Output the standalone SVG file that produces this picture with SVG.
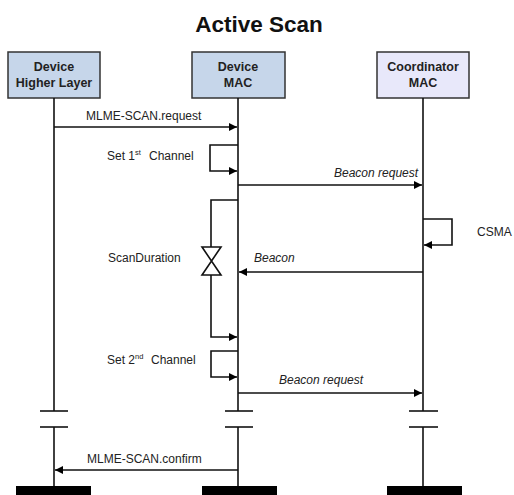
<svg xmlns="http://www.w3.org/2000/svg" width="514" height="495" viewBox="0 0 514 495">
<defs>
<marker id="ah" viewBox="0 0 10 10" refX="10" refY="5" markerWidth="8" markerHeight="8" markerUnits="userSpaceOnUse" orient="auto">
<path d="M0,0 L10,5 L0,10 z" fill="#000"/>
</marker>
<style>
.box{stroke:#333;stroke-width:1.5}
.bt{font-family:"Liberation Sans",Arial,sans-serif;font-weight:bold;font-size:12.5px;fill:#222;text-anchor:middle}
.t{font-family:"Liberation Sans",Arial,sans-serif;font-size:12px;fill:#222}
.it{font-style:italic}
.ll{stroke:#111;stroke-width:1.6;fill:none}
.msg{stroke:#111;stroke-width:1.6;fill:none;marker-end:url(#ah)}
.brk{stroke:#111;stroke-width:1.6}
</style>
</defs>
<rect width="514" height="495" fill="#fff"/>
<text x="259" y="32" font-family="Liberation Sans,Arial,sans-serif" font-weight="bold" font-size="22.5" text-anchor="middle" fill="#111">Active Scan</text>

<g id="node-device-higher-layer">
<rect class="box" x="8" y="52" width="92" height="46" fill="#c6d6ea"/>
<text class="bt" x="54" y="71">Device</text>
<text class="bt" x="54" y="87">Higher Layer</text>
</g>
<g id="node-device-mac">
<rect class="box" x="192" y="52" width="93" height="46" fill="#c6d6ea"/>
<text class="bt" x="238" y="71">Device</text>
<text class="bt" x="238" y="87">MAC</text>
</g>
<g id="node-coordinator-mac">
<rect class="box" x="377" y="52" width="92" height="46" fill="#e8e8fa"/>
<text class="bt" x="423" y="71">Coordinator</text>
<text class="bt" x="423" y="87">MAC</text>
</g>

<g id="lifelines">
<line class="ll" x1="54" y1="98" x2="54" y2="411"/>
<line class="ll" x1="54" y1="427" x2="54" y2="487"/>
<line class="ll" x1="238" y1="98" x2="238" y2="411"/>
<line class="ll" x1="238" y1="427" x2="238" y2="487"/>
<line class="ll" x1="423" y1="98" x2="423" y2="411"/>
<line class="ll" x1="423" y1="427" x2="423" y2="487"/>
<line class="brk" x1="40" y1="411" x2="68" y2="411"/>
<line class="brk" x1="40" y1="427" x2="68" y2="427"/>
<line class="brk" x1="225" y1="411" x2="253" y2="411"/>
<line class="brk" x1="225" y1="427" x2="253" y2="427"/>
<line class="brk" x1="409" y1="411" x2="438" y2="411"/>
<line class="brk" x1="409" y1="427" x2="438" y2="427"/>
<rect x="16" y="486" width="75" height="9" fill="#000"/>
<rect x="202" y="486" width="75" height="9" fill="#000"/>
<rect x="387" y="486" width="75" height="9" fill="#000"/>
</g>

<g id="connectors">
<line class="msg" x1="54" y1="127" x2="237" y2="127"/>
<text class="t" x="86" y="120" font-size="11.8">MLME-SCAN.request</text>

<path class="msg" d="M238,145 H210 V171 H237"/>
<text class="t" x="107" y="160">Set 1<tspan font-size="7.5" dy="-5">st</tspan><tspan x="149" dy="5">Channel</tspan></text>

<line class="msg" x1="238" y1="185" x2="422" y2="185"/>
<text class="t it" x="334" y="177">Beacon request</text>

<path class="msg" d="M423,219 H452 V245 H424"/>
<text class="t" x="477" y="236">CSMA</text>

<path class="ll" d="M238,200 H211 V247"/>
<path class="msg" d="M211,275 V337 H237"/>
<path d="M202,247 H221 L202,275 H221 Z" fill="#fff" stroke="#111" stroke-width="1.6" stroke-linejoin="miter"/>
<text class="t" x="108" y="262" font-size="12.5">ScanDuration</text>

<line class="msg" x1="423" y1="272" x2="239" y2="272"/>
<text class="t it" x="254" y="262">Beacon</text>

<path class="msg" d="M238,351 H211 V377 H237"/>
<text class="t" x="107" y="364">Set 2<tspan font-size="7.5" dy="-5">nd</tspan><tspan x="151" dy="5">Channel</tspan></text>

<line class="msg" x1="238" y1="393" x2="422" y2="393"/>
<text class="t it" x="279" y="384">Beacon request</text>

<line class="msg" x1="238" y1="470" x2="55" y2="470"/>
<text class="t" x="87" y="463">MLME-SCAN.confirm</text>
</g>
</svg>
